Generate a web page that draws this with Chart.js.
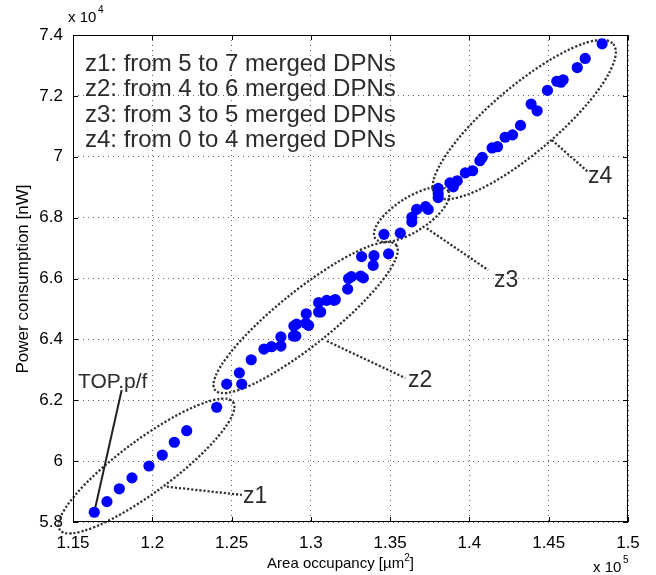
<!DOCTYPE html>
<html>
<head>
<meta charset="utf-8">
<script src="https://cdn.jsdelivr.net/npm/chart.js@4"></script>
<style>
html,body{margin:0;padding:0;background:#fff;}
#wrap{width:656px;height:575px;position:relative;}
</style>
</head>
<body>
<div id="wrap"><canvas id="c" width="656" height="575"></canvas></div>
<script>
// ---- data (x in units of 1e5 µm², y in units of 1e4 nW) ----
const zone1X = [1.1634,1.1714,1.1792,1.1872,1.1979,1.2063,1.2139,1.2217,1.2406];
const zone1Y = [5.832,5.867,5.909,5.945,5.984,6.020,6.062,6.100,6.177];
const zone2X = [1.2469,1.2564,1.2549,1.2624,1.2704,1.2752,1.2811,1.2811,1.2890,1.2905,1.2893,1.2910,1.2969,1.2986,1.2971,1.3049,1.3062,1.3049,1.3100,1.3147,1.3154,1.3232,1.3238,1.3255,1.3314,1.3331,1.3393,1.3320,1.3398,1.3490];
const zone2Y = [6.253,6.253,6.290,6.333,6.368,6.376,6.378,6.408,6.411,6.411,6.444,6.450,6.453,6.446,6.484,6.490,6.490,6.521,6.528,6.528,6.531,6.565,6.600,6.606,6.608,6.602,6.643,6.672,6.675,6.681];
const zone3X = [1.3461,1.3564,1.3637,1.3637,1.3667,1.3724,1.3740,1.3803,1.3803,1.3803];
const zone3Y = [6.745,6.749,6.801,6.786,6.827,6.836,6.827,6.896,6.879,6.866];
const zone4X = [1.3877,1.3898,1.3923,1.3974,1.4020,1.4066,1.4081,1.4143,1.4177,1.4225,1.4272,1.4322,1.4389,1.4427,1.4492,1.4551,1.4577,1.4591,1.4680,1.4730,1.4837];
const zone4Y = [6.914,6.901,6.921,6.947,6.954,6.987,6.998,7.029,7.033,7.064,7.072,7.103,7.173,7.151,7.218,7.248,7.245,7.253,7.293,7.323,7.371];

const xTicks = [1.15,1.2,1.25,1.3,1.35,1.4,1.45,1.5];
const yTicks = [5.8,6,6.2,6.4,6.6,6.8,7,7.2,7.4];

const legendLines = ["z1: from 5 to 7 merged DPNs","z2: from 4 to 6 merged DPNs","z3: from 3 to 5 merged DPNs","z4: from 0 to 4 merged DPNs"];

// zone ellipses: major-axis end points (data units)
const ellipseX1 = [1.1418,1.2396,1.3405,1.3784];
const ellipseY1 = [5.7737,6.2336,6.7330,6.8742];
const ellipseX2 = [1.2509,1.3538,1.3866,1.4907];
const ellipseY2 = [6.1942,6.7100,6.8874,7.3702];

// callouts: label, line start, line end, label anchor (data units)
const calloutText = ["z1","z2","z3","z4","TOP.p/f"];
const calloutFromX = [1.2091,1.3101,1.3731,1.4520,1.1634];
const calloutFromY = [5.916,6.3946,6.7648,7.0549,5.832];
const calloutToX = [1.2565,1.3595,1.4118,1.4749,1.1807];
const calloutToY = [5.889,6.2730,6.6278,6.9498,6.2336];
const calloutLabelX = [1.2572,1.3612,1.4155,1.4747,1.1532];
const calloutLabelY = [5.8624,6.2435,6.572,6.9136,6.2402];

const FONT = "'Liberation Sans', Arial, Helvetica, sans-serif";
const toPts = (xs, ys) => xs.map((x, i) => ({x, y: ys[i]}));

const overlay = {
  id: 'overlay',
  beforeDatasetsDraw(chart) {
    const {ctx, scales:{x, y}} = chart;
    ctx.save();
    ctx.strokeStyle = '#333';
    ctx.lineWidth = 2.3;
    ctx.setLineDash([2.2, 1.9]);
    for (let i = 0; i < ellipseX1.length; i++) {
      const ax = x.getPixelForValue(ellipseX1[i]), ay = y.getPixelForValue(ellipseY1[i]);
      const bx = x.getPixelForValue(ellipseX2[i]), by = y.getPixelForValue(ellipseY2[i]);
      const cx = (ax+bx)/2, cy = (ay+by)/2;
      const a = Math.hypot(bx-ax, by-ay)/2;
      const ratio = [0.245, 0.235, 0.39, 0.285][i];
      ctx.beginPath();
      ctx.ellipse(cx, cy, a, a*ratio, Math.atan2(by-ay, bx-ax), 0, Math.PI*2);
      ctx.stroke();
    }
    for (let i = 0; i < 4; i++) {
      ctx.beginPath();
      ctx.moveTo(x.getPixelForValue(calloutFromX[i]), y.getPixelForValue(calloutFromY[i]));
      ctx.lineTo(x.getPixelForValue(calloutToX[i]), y.getPixelForValue(calloutToY[i]));
      ctx.stroke();
    }
    ctx.setLineDash([]);
    ctx.lineWidth = 2;
    ctx.strokeStyle = '#222';
    ctx.beginPath();
    ctx.moveTo(x.getPixelForValue(calloutFromX[4]), y.getPixelForValue(calloutFromY[4]));
    ctx.lineTo(x.getPixelForValue(calloutToX[4]), y.getPixelForValue(calloutToY[4]));
    ctx.stroke();
    ctx.restore();
  },
  afterDraw(chart) {
    const {ctx, chartArea:ca, scales:{x, y}} = chart;
    ctx.save();
    ctx.strokeStyle = '#000';
    ctx.lineWidth = 1;
    ctx.strokeRect(ca.left+0.5, ca.top+0.5, ca.right-ca.left-1, ca.bottom-ca.top-1);
    ctx.beginPath();
    xTicks.forEach(v => {
      const px = Math.round(x.getPixelForValue(v))+0.5;
      ctx.moveTo(px, ca.bottom); ctx.lineTo(px, ca.bottom-5);
      ctx.moveTo(px, ca.top); ctx.lineTo(px, ca.top+5);
    });
    yTicks.forEach(v => {
      const py = Math.round(y.getPixelForValue(v))+0.5;
      ctx.moveTo(ca.left, py); ctx.lineTo(ca.left+5, py);
      ctx.moveTo(ca.right, py); ctx.lineTo(ca.right-5, py);
    });
    ctx.stroke();

    // legend text
    ctx.fillStyle = '#2b2b2b';
    ctx.font = '24px ' + FONT;
    ctx.textBaseline = 'alphabetic';
    ctx.textAlign = 'left';
    legendLines.forEach((t, i) => ctx.fillText(t, ca.left + 12, ca.top + 36 + i*25.3));
    for (let i = 0; i < calloutText.length; i++) {
      ctx.font = (i === 4 ? '21px ' : '23px ') + FONT;
      ctx.fillText(calloutText[i], x.getPixelForValue(calloutLabelX[i]), y.getPixelForValue(calloutLabelY[i]));
    }

    // axis titles
    ctx.fillStyle = '#000';
    ctx.font = '15px ' + FONT;
    const p1 = 'Area occupancy [µm', sup = '2', p3 = ']';
    const w1 = ctx.measureText(p1).width;
    ctx.font = '10px ' + FONT;
    const w2 = ctx.measureText(sup).width;
    ctx.font = '15px ' + FONT;
    const w3 = ctx.measureText(p3).width;
    let sx = (ca.left+ca.right)/2 - 10 - (w1+w2+w3)/2;
    const by = 568;
    ctx.fillText(p1, sx, by);
    ctx.font = '10px ' + FONT; ctx.fillText(sup, sx+w1, by-7);
    ctx.font = '15px ' + FONT; ctx.fillText(p3, sx+w1+w2, by);
    ctx.save();
    ctx.font = '17px ' + FONT;
    ctx.translate(28, 279);
    ctx.rotate(-Math.PI/2);
    ctx.textAlign = 'center';
    ctx.fillText('Power consumption [nW]', 0, 0);
    ctx.restore();
    ctx.font = '15px ' + FONT;
    ctx.fillText('x 10', 68, 22);
    ctx.font = '10px ' + FONT;
    ctx.fillText('4', 68 + 30, 13);
    ctx.font = '15px ' + FONT;
    ctx.fillText('x 10', 593, 572);
    ctx.font = '10px ' + FONT;
    ctx.fillText('5', 593 + 30, 563);
    ctx.restore();
  }
};

const fmt = v => String(parseFloat(Number(v).toFixed(2)));

new Chart(document.getElementById('c'), {
  type: 'scatter',
  data: {
    datasets: [
      {data: toPts(zone1X, zone1Y)},
      {data: toPts(zone2X, zone2Y)},
      {data: toPts(zone3X, zone3Y)},
      {data: toPts(zone4X, zone4Y)}
    ].map(d => Object.assign(d, {backgroundColor:'#0000ff', borderWidth:0, pointRadius:5.6, pointHoverRadius:5.6}))
  },
  options: {
    responsive: false,
    animation: false,
    events: [],
    layout: {padding: {top: 35, right: 28, left: 0, bottom: 0}},
    plugins: {legend: {display: false}, tooltip: {enabled: false}},
    scales: {
      x: {
        type: 'linear', min: 1.15, max: 1.5,
        afterBuildTicks: s => { s.ticks = xTicks.map(v => ({value: v})); },
        afterFit: s => { s.height = 53; },
        ticks: {callback: fmt, color: '#000', font: {family: FONT, size: 17}, padding: 11, maxRotation: 0, autoSkip: false},
        grid: {color: 'rgba(0,0,0,0.6)', lineWidth: 1, drawTicks: false},
        border: {display: false, dash: [1, 4]}
      },
      y: {
        type: 'linear', min: 5.8, max: 7.4,
        afterBuildTicks: s => { s.ticks = yTicks.map(v => ({value: v})); },
        afterFit: s => { s.width = 73; },
        ticks: {callback: fmt, color: '#000', font: {family: FONT, size: 17}, padding: 10, autoSkip: false},
        grid: {color: 'rgba(0,0,0,0.6)', lineWidth: 1, drawTicks: false},
        border: {display: false, dash: [1, 4]}
      }
    }
  },
  plugins: [overlay]
});
</script>
</body>
</html>
